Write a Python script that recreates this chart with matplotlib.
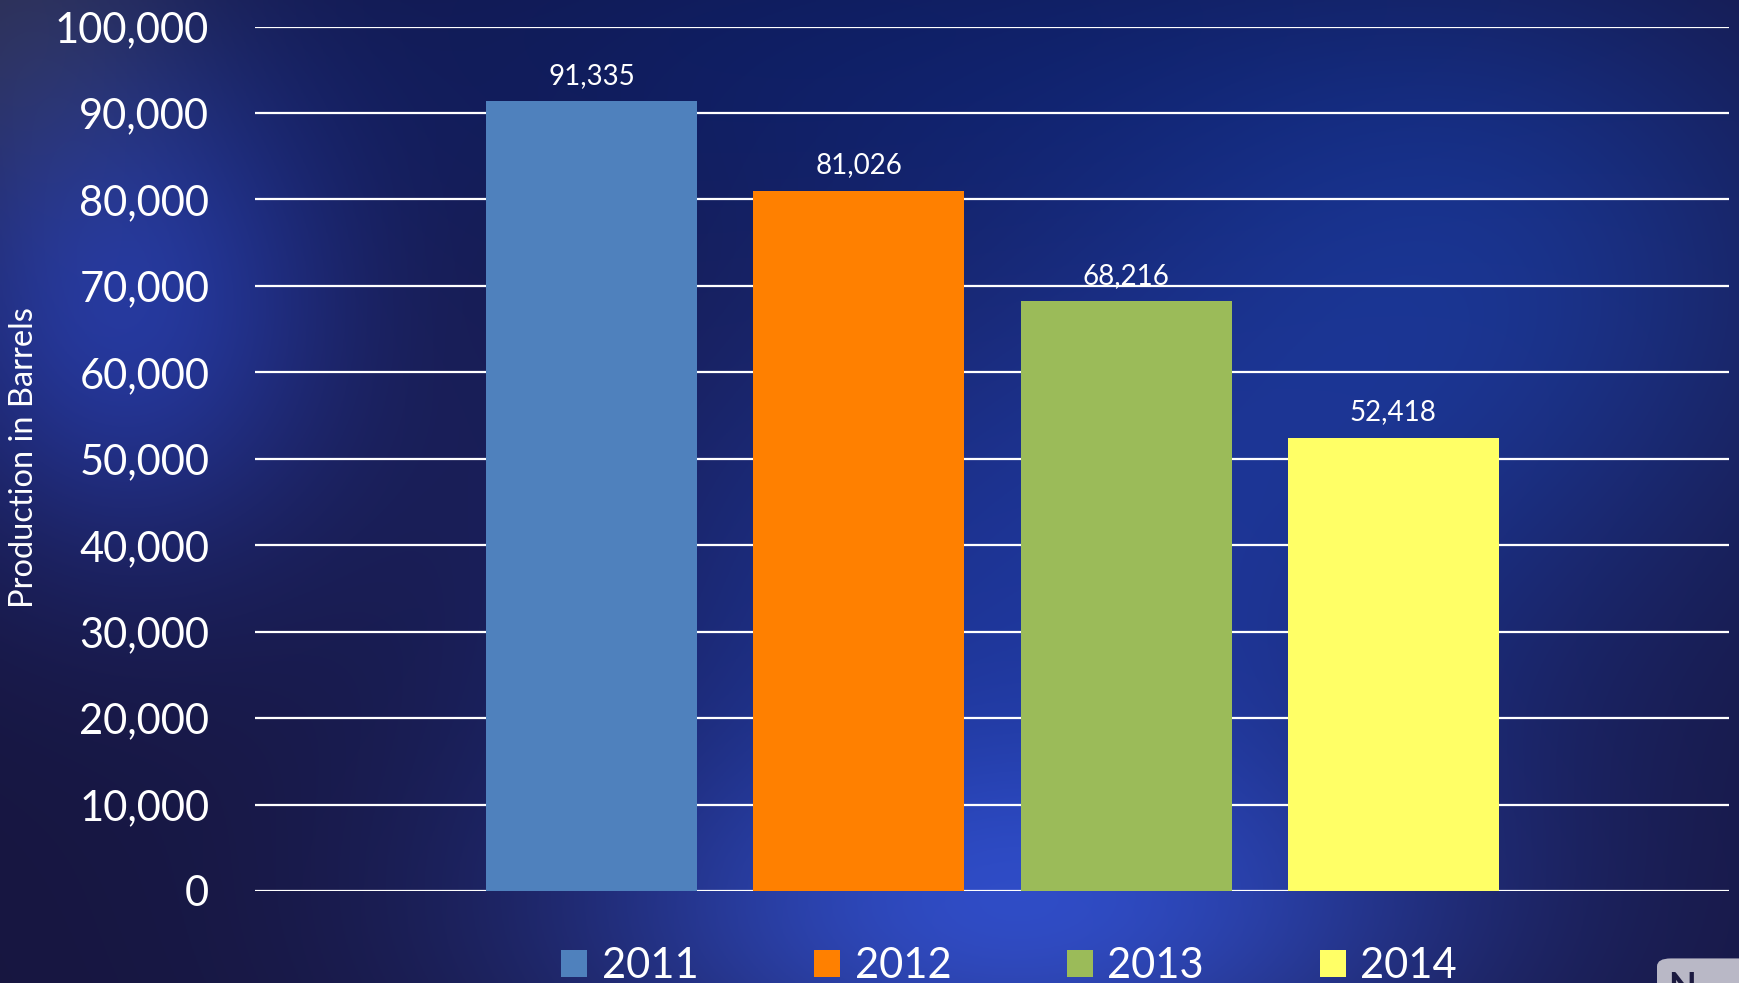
import numpy as np
import matplotlib.pyplot as plt
from matplotlib.patches import Patch, FancyBboxPatch

years = ["2011", "2012", "2013", "2014"]
production = [91335, 81026, 68216, 52418]
bar_colors = ["#4f81bd", "#ff8000", "#9bbb59", "#ffff66"]
y_ticks = list(range(0, 100001, 10000))

plt.rcParams["font.family"] = ["Lato", "DejaVu Sans"]

fig = plt.figure(figsize=(17.4, 9.83), dpi=100)

# background: dark navy with blue glows
bg = fig.add_axes([0, 0, 1, 1], zorder=-10)
bg.axis("off")
h, w = 400, 700
yy, xx = np.mgrid[0:1:h * 1j, 0:1:w * 1j]
base = np.array([0x17, 0x16, 0x40]) / 255
img = np.ones((h, w, 3)) * base


def glow(cx, cy, sx, sy, col, amt=1.0):
    g = np.exp(-(((xx - cx) / sx) ** 2 + ((yy - cy) / sy) ** 2) / 2) * amt
    return g[..., None] * (np.array(col) / 255 - base)


img += glow(0.50, 0.05, 0.30, 0.15, [0x0f, 0x1c, 0x5c])
img += glow(0.60, 0.62, 0.20, 0.28, [0x1e, 0x38, 0xa0], 0.85)
img += glow(0.58, 0.95, 0.18, 0.14, [0x34, 0x4a, 0xb8], 0.75)
img += glow(0.07, 0.32, 0.09, 0.18, [0x2a, 0x42, 0xb8], 0.75)
img += glow(0.86, 0.28, 0.15, 0.22, [0x1b, 0x33, 0x88], 0.8)
img += glow(0.0, 0.0, 0.08, 0.15, [0x30, 0x2e, 0x48], 0.9)
img = np.clip(img, 0, 1)
bg.imshow(img, extent=[0, 1, 0, 1], origin="upper", aspect="auto")
bg.set_xlim(0, 1)
bg.set_ylim(0, 1)

ax = fig.add_axes([0.1466, 0.0936, 0.8471, 0.8794])
ax.set_facecolor("none")
x = np.arange(len(years))
bars = ax.bar(x, production, width=0.79, color=bar_colors, zorder=3)
ax.bar_label(bars, labels=[f"{v:,}" for v in production], padding=9,
             color="white", fontsize=20)

ax.set_ylim(0, 100000)
ax.set_xlim(-1.26, 4.257)
ax.set_yticks(y_ticks)
ax.set_yticklabels([f"{t:,}" for t in y_ticks], fontsize=30, color="white")
ax.set_xticks([])
ax.tick_params(axis="y", length=0, pad=33)
ax.yaxis.grid(True, color="white", linewidth=1.6, zorder=0)
ax.set_axisbelow(True)
for s in ax.spines.values():
    s.set_visible(False)

fig.text(24 / 1740, 1 - 458 / 983, "Production in Barrels", rotation=90,
         ha="center", va="center", color="white", fontsize=23.5)

handles = [Patch(facecolor=c, edgecolor="none") for c in bar_colors]
fig.legend(handles, years, ncol=4, loc="center",
           bbox_to_anchor=(1009 / 1740, 1 - 966 / 983), frameon=False,
           fontsize=30, labelcolor="white", handlelength=0.63,
           handleheight=0.63, handletextpad=0.34, columnspacing=2.78,
           borderpad=0)

# small logo box in the corner
fig.patches.append(FancyBboxPatch((1657 / 1740, -0.02), 0.1, 0.045,
                                  boxstyle="round,pad=0,rounding_size=0.008",
                                  transform=fig.transFigure, facecolor="#b9b8c6",
                                  edgecolor="none"))
fig.text(1668 / 1740, 1 - 971 / 983, "N", ha="left", va="top",
         color="#1c1a40", fontsize=26, fontweight="bold")

fig.savefig("out.png", dpi=100)
